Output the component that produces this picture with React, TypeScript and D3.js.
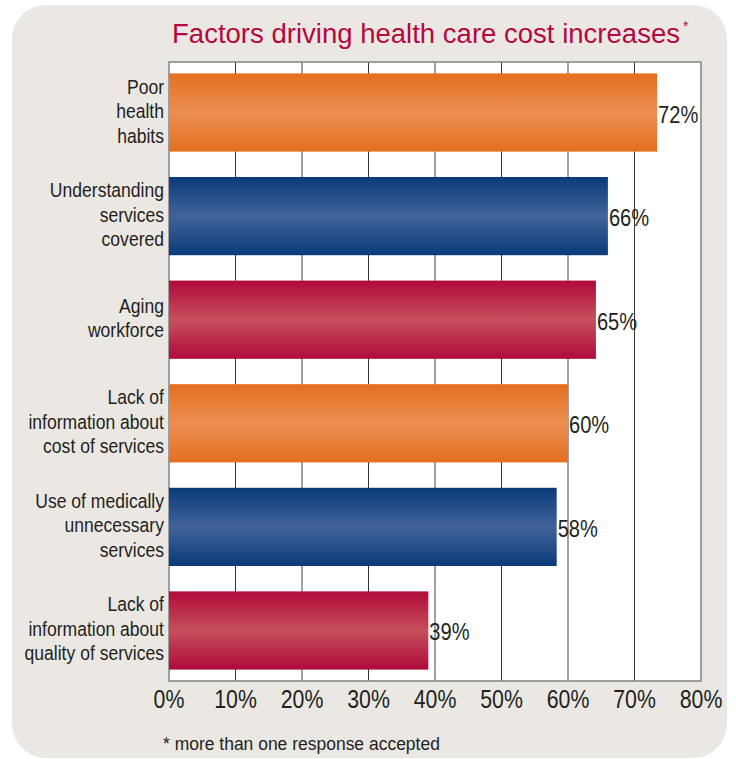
import React from "react";
import * as d3 from "d3";

const categories: string[][] = [
  ["Poor", "health", "habits"],
  ["Understanding", "services", "covered"],
  ["Aging", "workforce"],
  ["Lack of", "information about", "cost of services"],
  ["Use of medically", "unnecessary", "services"],
  ["Lack of", "information about", "quality of services"],
];
const barValues: number[] = [73.4, 66, 64.2, 60, 58.3, 39];
const valueLabels: string[] = ["72%", "66%", "65%", "60%", "58%", "39%"];
const colorKeys: string[] = ["orange", "blue", "red", "orange", "blue", "red"];
const ticks: number[] = [0, 10, 20, 30, 40, 50, 60, 70, 80];

const gradients: Record<string, [string, string]> = {
  orange: ["#e46f1f", "#eb8f52"],
  blue: ["#0a3b78", "#42639a"],
  red: ["#b00a3b", "#c5505c"],
};

const W = 736;
const H = 759;
const plot = { left: 169, right: 701, top: 62, bottom: 681 };
const sans = "'Liberation Sans', Arial, Helvetica, sans-serif";

function NText(props: {
  x: number;
  y: number;
  sx: number;
  size: number;
  anchor?: string;
  fill?: string;
  children: React.ReactNode;
}) {
  return (
    <text
      transform={`translate(${props.x},${props.y}) scale(${props.sx},1)`}
      textAnchor={props.anchor || "start"}
      fontFamily={sans}
      fontSize={props.size}
      fill={props.fill || "#231f20"}
    >
      {props.children}
    </text>
  );
}

export default function App() {
  const x = d3.scaleLinear().domain([0, 80]).range([plot.left, plot.right]);
  const y = d3
    .scaleBand<number>()
    .domain(d3.range(categories.length))
    .range([plot.top, plot.bottom])
    .paddingInner(0.245)
    .paddingOuter(0.11);
  const bw = y.bandwidth();

  return (
    <svg
      width={W}
      height={H}
      style={{ position: "absolute", left: 0, top: 0, display: "block" }}
    >
      <defs>
        {Object.entries(gradients).map(([k, [edge, mid]]) => (
          <linearGradient key={k} id={`g-${k}`} x1="0" y1="0" x2="0" y2="1">
            <stop offset="0" stopColor={edge} />
            <stop offset="0.5" stopColor={mid} />
            <stop offset="1" stopColor={edge} />
          </linearGradient>
        ))}
      </defs>
      <rect x={0} y={0} width={W} height={H} fill="#ffffff" />
      <rect x={12} y={5} width={715} height={753} rx={34} ry={34} fill="#ebe8e4" />

      <text
        x={172}
        y={43}
        fontFamily={sans}
        fontSize={27}
        fill="#b5083f"
        textLength={508}
        lengthAdjust="spacingAndGlyphs"
      >
        Factors driving health care cost increases
      </text>
      <text x={683} y={31} fontFamily={sans} fontSize={14} fill="#b5083f">
        *
      </text>

      <rect
        x={plot.left}
        y={plot.top}
        width={plot.right - plot.left}
        height={plot.bottom - plot.top}
        fill="#ffffff"
      />
      {ticks.slice(1, -1).map((t, i) => (
        <line
          key={t}
          x1={x(t)}
          x2={x(t)}
          y1={plot.top}
          y2={plot.bottom}
          stroke={i % 2 === 0 ? "#333333" : "#8a8a8a"}
          strokeWidth={i % 2 === 0 ? 1 : 1.6}
        />
      ))}
      <rect
        x={plot.left}
        y={plot.top}
        width={plot.right - plot.left}
        height={plot.bottom - plot.top}
        fill="none"
        stroke="#8a8a8a"
        strokeWidth={1.6}
      />

      {barValues.map((v, i) => {
        const top = y(i)!;
        const cy = top + bw / 2;
        return (
          <g key={i}>
            <rect
              x={x(0)}
              y={top}
              width={x(v) - x(0)}
              height={bw}
              fill={`url(#g-${colorKeys[i]})`}
            />
            <NText x={x(v) + 1} y={cy + 10} sx={0.82} size={24.5}>
              {valueLabels[i]}
            </NText>
            {categories[i].map((line, j) => (
              <NText
                key={j}
                x={164}
                y={cy + 5.5 + (j - (categories[i].length - 1) / 2) * 24.5}
                sx={0.9}
                size={19.5}
                anchor="end"
              >
                {line}
              </NText>
            ))}
          </g>
        );
      })}

      {ticks.map((t) => (
        <NText key={t} x={x(t)} y={708} sx={0.82} size={26} anchor="middle">
          {`${t}%`}
        </NText>
      ))}

      <NText x={163} y={750} sx={0.92} size={19}>
        * more than one response accepted
      </NText>
    </svg>
  );
}
